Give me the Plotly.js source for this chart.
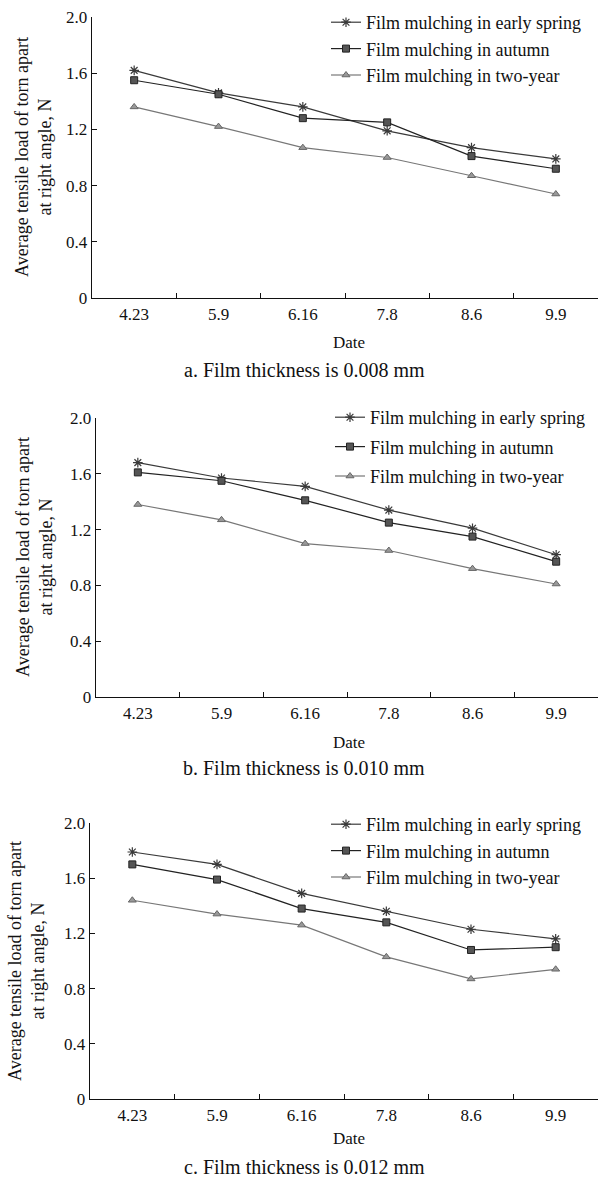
<!DOCTYPE html>
<html>
<head>
<meta charset="utf-8">
<script src="https://cdn.plot.ly/plotly-3.0.1.min.js"></script>
<style>html,body{margin:0;padding:0;background:#fff;}#chart{width:601px;height:1183px;}</style>
</head>
<body>
<div id="chart"></div>
<script>
// ---- data ----
const categories = ["4.23", "5.9", "6.16", "7.8", "8.6", "9.9"];
const seriesNames = ["Film mulching in early spring", "Film mulching in autumn", "Film mulching in two-year"];

const aSpring = [1.62, 1.46, 1.36, 1.19, 1.07, 0.99];
const aAutumn = [1.55, 1.45, 1.28, 1.25, 1.01, 0.92];
const aTwoYear = [1.36, 1.22, 1.07, 1.00, 0.87, 0.74];

const bSpring = [1.68, 1.57, 1.51, 1.34, 1.21, 1.02];
const bAutumn = [1.61, 1.55, 1.41, 1.25, 1.15, 0.97];
const bTwoYear = [1.38, 1.27, 1.10, 1.05, 0.92, 0.81];

const cSpring = [1.79, 1.70, 1.49, 1.36, 1.23, 1.16];
const cAutumn = [1.70, 1.59, 1.38, 1.28, 1.08, 1.10];
const cTwoYear = [1.44, 1.34, 1.26, 1.03, 0.87, 0.94];

const yTickVals = [0, 0.4, 0.8, 1.2, 1.6, 2.0];
const yTickText = ["0", "0.4", "0.8", "1.2", "1.6", "2.0"];

const captions = ["a. Film thickness is 0.008 mm", "b. Film thickness is 0.010 mm", "c. Film thickness is 0.012 mm"];
const xTitle = "Date";
const yTitle = "Average tensile load of torn apart<br>at right angle, N";

// ---- styling ----
const W = 601, H = 1183;
const FONT = "'Liberation Serif'";
const px = v => v / W;
const py = v => 1 - v / H;

const styles = [
  {line: {color: "#3a3a3a", width: 1.2}, marker: {symbol: "asterisk-open", size: 8, line: {color: "#3a3a3a", width: 1.2}}},
  {line: {color: "#222222", width: 1.2}, marker: {symbol: "square", size: 7, color: "#555555", line: {color: "#222222", width: 1}}},
  {line: {color: "#777777", width: 1.2}, marker: {symbol: "triangle-up", size: 7, color: "#999999", line: {color: "#666666", width: 1}}}
];

// panel geometry in pixels
const panels = [
  {x0: 92, x1: 598, top: 17, bottom: 298, data: [aSpring, aAutumn, aTwoYear], leg: {x: 326, y: 4, gap: 0},
   date: 342, cap: 370, ytx: 34, yty: 157},
  {x0: 96, x1: 598, top: 418, bottom: 697, data: [bSpring, bAutumn, bTwoYear], leg: {x: 330, y: 399, gap: 3},
   date: 742, cap: 768, ytx: 34, yty: 557},
  {x0: 90, x1: 598, top: 823, bottom: 1099, data: [cSpring, cAutumn, cTwoYear], leg: {x: 326, y: 806, gap: 0},
   date: 1138, cap: 1167, ytx: 26, yty: 961}
];

const traces = [];
const layout = {
  width: W, height: H,
  margin: {l: 0, r: 0, t: 0, b: 0},
  paper_bgcolor: "#ffffff", plot_bgcolor: "#ffffff",
  font: {family: FONT, color: "#111111", size: 17},
  showlegend: true,
  annotations: []
};

panels.forEach((p, i) => {
  const n = i === 0 ? "" : String(i + 1);
  const legName = "legend" + n;
  p.data.forEach((vals, k) => {
    traces.push({
      type: "scatter", mode: "lines+markers",
      x: categories, y: vals, name: seriesNames[k],
      xaxis: "x" + n, yaxis: "y" + n,
      legend: legName, legendgroup: "g" + i + "_" + k,
      line: styles[k].line, marker: styles[k].marker
    });
  });
  layout["xaxis" + n] = {
    domain: [px(p.x0), px(p.x1)], anchor: "y" + n,
    type: "category", range: [-0.5, 5.5],
    showgrid: false, zeroline: false,
    showline: true, linecolor: "#111", linewidth: 1.3,
    ticks: "inside", tickson: "boundaries", ticklen: 5, tickcolor: "#111",
    tickfont: {family: FONT, size: 17, color: "#111"},
    fixedrange: true
  };
  layout["yaxis" + n] = {
    domain: [py(p.bottom), py(p.top)], anchor: "x" + n,
    range: [0, 2.0], tickvals: yTickVals, ticktext: yTickText,
    showgrid: false, zeroline: false,
    showline: true, linecolor: "#111", linewidth: 1.3,
    ticks: "inside", ticklen: 5, tickcolor: "#111",
    tickfont: {family: FONT, size: 17, color: "#111"},
    fixedrange: true
  };
  layout[legName] = {
    x: px(p.leg.x), y: py(p.leg.y), xanchor: "left", yanchor: "top",
    xref: "paper", yref: "paper",
    bgcolor: "rgba(0,0,0,0)", borderwidth: 0,
    font: {family: FONT, size: 18, color: "#111"},
    traceorder: "grouped", tracegroupgap: p.leg.gap
  };
  layout.annotations.push({
    xref: "paper", yref: "paper", x: px(349), y: py(p.date),
    text: xTitle, showarrow: false, font: {family: FONT, size: 17, color: "#111"},
    xanchor: "center", yanchor: "middle"
  });
  layout.annotations.push({
    xref: "paper", yref: "paper", x: px(304), y: py(p.cap),
    text: captions[i], showarrow: false, font: {family: FONT, size: 20, color: "#111"},
    xanchor: "center", yanchor: "middle"
  });
  layout.annotations.push({
    xref: "paper", yref: "paper", x: px(p.ytx), y: py(p.yty),
    text: yTitle, showarrow: false, textangle: -90,
    font: {family: FONT, size: 18, color: "#111"},
    xanchor: "center", yanchor: "middle"
  });
});

Plotly.newPlot("chart", traces, layout, {displayModeBar: false, staticPlot: true});
</script>
</body>
</html>
